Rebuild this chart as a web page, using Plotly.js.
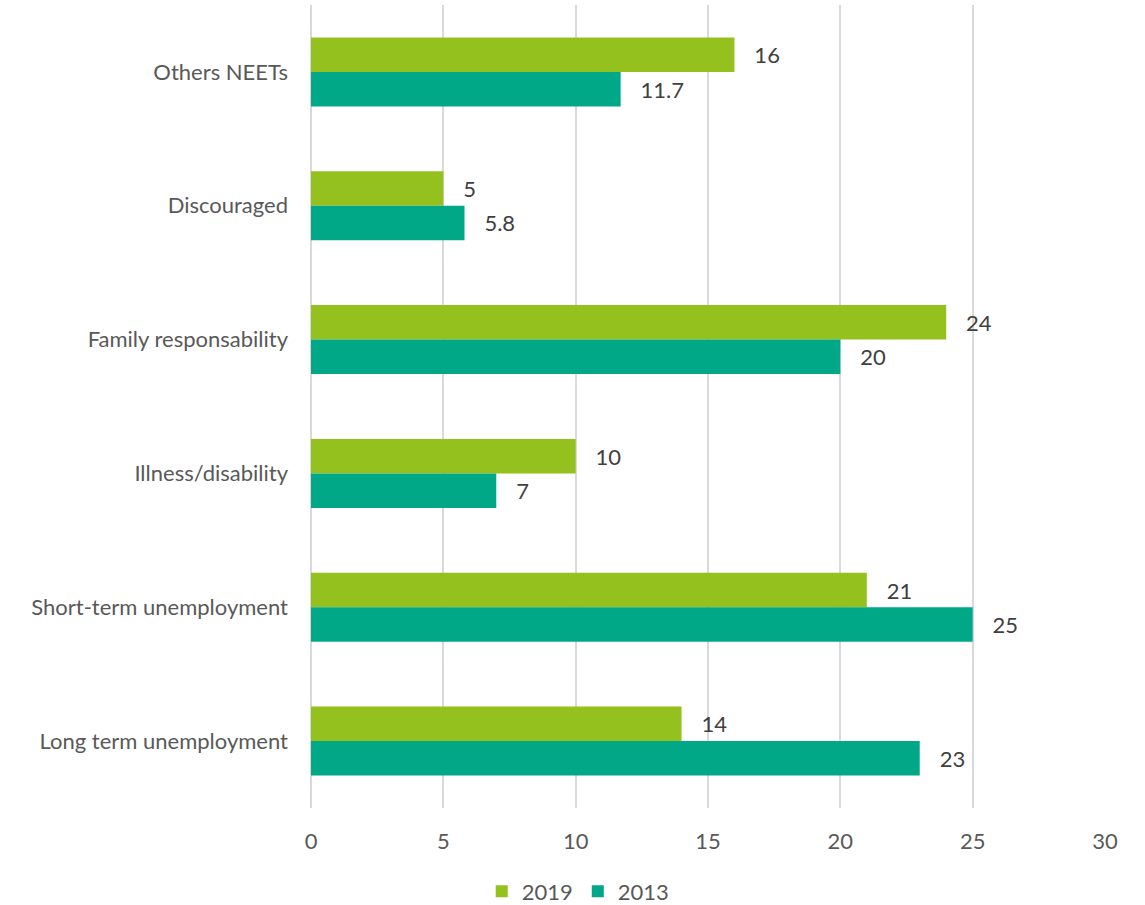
<!DOCTYPE html>
<html>
<head>
<meta charset="utf-8">
<script src="https://cdn.plot.ly/plotly-3.0.1.min.js"></script>
<style>html,body{margin:0;padding:0;background:#fff;}#chart{width:1145px;height:905px;}</style>
</head>
<body>
<div id="chart"></div>
<script>
const categories = ["Others NEETs", "Discouraged", "Family responsability", "Illness/disability", "Short-term unemployment", "Long term unemployment"];
const values2019 = [16, 5, 24, 10, 21, 14];
const values2013 = [11.7, 5.8, 20, 7, 25, 23];
const seriesNames = ["2019", "2013"];
const xTicks = [0, 5, 10, 15, 20, 25, 30];

const FONT = "Lato, Open Sans, Liberation Sans, sans-serif";
const labelFont = {family: FONT, size: 22, color: "#404040"};

const traces = [
  {type: "bar", orientation: "h", name: seriesNames[0], y: categories, x: values2019,
   marker: {color: "#95C11F"}, text: values2019.map(String), texttemplate: "   %{text}",
   textposition: "outside", cliponaxis: false, textfont: labelFont, hoverinfo: "x+name"},
  {type: "bar", orientation: "h", name: seriesNames[1], y: categories, x: values2013,
   marker: {color: "#00A887"}, text: values2013.map(String), texttemplate: "   %{text}",
   textposition: "outside", cliponaxis: false, textfont: labelFont, hoverinfo: "x+name"}
];

const layout = {
  width: 1145, height: 905,
  margin: {l: 311, r: 40, t: 5, b: 97, autoexpand: false},
  paper_bgcolor: "#fff", plot_bgcolor: "#fff",
  barmode: "group", bargap: 0.485, bargroupgap: 0,
  font: {family: FONT, size: 22, color: "#595959"},
  xaxis: {range: [0, 30], tickvals: xTicks, ticktext: xTicks.map(String), showgrid: true,
          gridcolor: "#D9D9D9", gridwidth: 2, zeroline: true, zerolinecolor: "#D9D9D9", zerolinewidth: 2,
          showline: false, ticks: "", ticklabelstandoff: 18, tickfont: {size: 22, color: "#595959"}, fixedrange: true},
  yaxis: {type: "category", autorange: "reversed", showgrid: false, zeroline: false, showline: false,
          ticks: "", ticklabelstandoff: 22, tickfont: {size: 22, color: "#595959"}, fixedrange: true},
  showlegend: true,
  legend: {orientation: "h", xref: "container", x: 0.505, xanchor: "center",
           yref: "container", y: 0.015, yanchor: "middle",
           font: {size: 22, color: "#595959"}, itemwidth: 30, traceorder: "normal"}
};

Plotly.newPlot("chart", traces, layout, {displayModeBar: false, staticPlot: true});
</script>
</body>
</html>
